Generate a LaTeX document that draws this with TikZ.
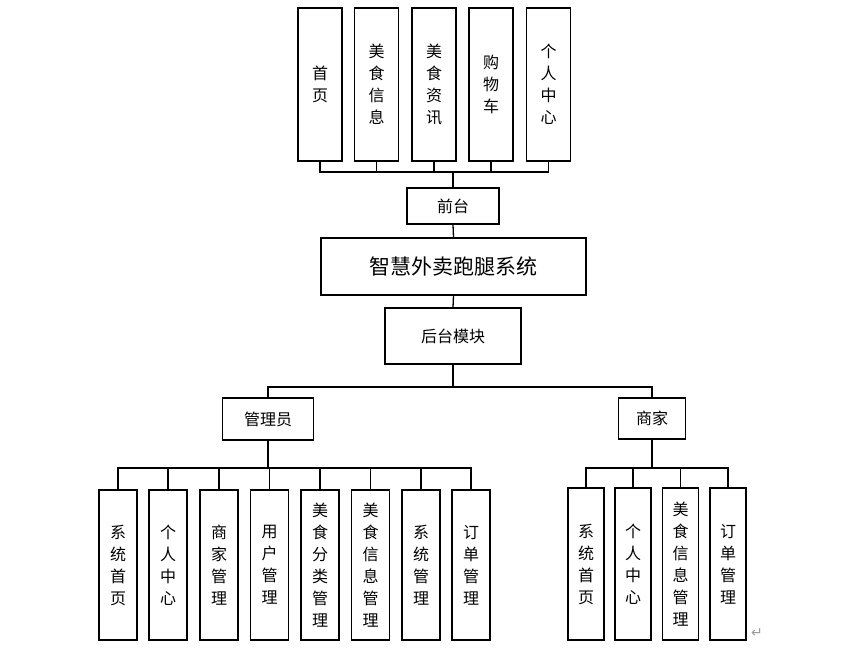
\documentclass[tikz,border=0pt]{standalone}
\usepackage{fontspec}
\usepackage{tikz}
\newfontfamily\cjk{Noto Sans CJK SC}
\newfontfamily\symfont{DejaVu Sans}
\tikzset{box/.style = {draw, line width=1.4pt, inner sep=0, align=center,
                       font=\cjk\fontsize{16}{22}\selectfont}}
\tikzset{tall/.style = {box, minimum width=44, minimum height=153}}
\tikzset{leaf/.style = {box, minimum width=38, minimum height=150}}
\tikzset{link/.style = {line width=1.3pt}}
\tikzset{stem/.style = {line width=2.2pt}}
\definecolor{mgray}{rgb}{0.6, 0.6, 0.6}

\begin{document}
\begin{tikzpicture}[x=1pt, y=-1pt]
      \useasboundingbox (0, 0) rectangle (846, 650);

      \foreach \x/\t [count=\i] in {320/{首\\页}, 376.5/{美\\食\\信\\息}, 434/{美\\食\\资\\讯},
                                    491/{购\\物\\车}, 548.5/{个\\人\\中\\心}} {
        \node [tall] (f\i) at (\x, 84.5) {\t};
      }
      \node [box, minimum width=92, minimum height=36] (front) at (453, 206) {前台};
      \node [box, minimum width=265, minimum height=57, font=\cjk\fontsize{21}{25}\selectfont]
        (sys) at (453.5, 266.5) {智慧外卖跑腿系统};
      \node [box, minimum width=136, minimum height=56] (back) at (453, 336) {后台模块};
      \node [box, minimum width=91, minimum height=42] (admin) at (268, 419) {管理员};
      \node [box, minimum width=67, minimum height=41] (shop) at (652, 418.5) {商家};

      \foreach \x/\t [count=\i] in {118/{系\\统\\首\\页}, 168/{个\\人\\中\\心}, 219/{商\\家\\管\\理},
                                    269.5/{用\\户\\管\\理}, 320/{美\\食\\分\\类\\管\\理},
                                    370.5/{美\\食\\信\\息\\管\\理}, 421/{系\\统\\管\\理},
                                    471/{订\\单\\管\\理}} {
        \node [leaf] (a\i) at (\x, 565) {\t};
      }
      \foreach \x/\t [count=\i] in {586/{系\\统\\首\\页}, 633/{个\\人\\中\\心},
                                    680.5/{美\\食\\信\\息\\管\\理}, 728/{订\\单\\管\\理}} {
        \node [leaf, minimum width=36, minimum height=152] (s\i) at (\x, 564) {\t};
      }
      \node [text=mgray, font=\symfont\fontsize{14}{14}\selectfont, inner sep=0] (pmark) at (757, 633) {↵};

      % connectors
      \coordinate (busF) at (453, 172);
      \coordinate (busB) at (453, 387);
      \coordinate (busA) at (268, 468);
      \coordinate (busS) at (652, 468);
      \foreach \i in {1, ..., 5} {
        \draw [link] (f\i.south) |- (busF);
      }
      \draw [stem] (busF) -- (front.north);
      \draw [link] (front.south) -- (sys.north);
      \draw [link] (sys.south) -- (back.north);
      \draw [link] (back.south) -- (busB);
      \draw [link] (busB) -| (admin.north);
      \draw [link] (busB) -| (shop.north);
      \draw [stem] (admin.south) -- (busA);
      \foreach \i in {1, ..., 8} {
        \draw [link] (busA) -| (a\i.north);
      }
      \draw [stem] (shop.south) -- (busS);
      \foreach \i in {1, ..., 4} {
        \draw [link] (busS) -| (s\i.north);
      }
    \end{tikzpicture}
\end{document}
